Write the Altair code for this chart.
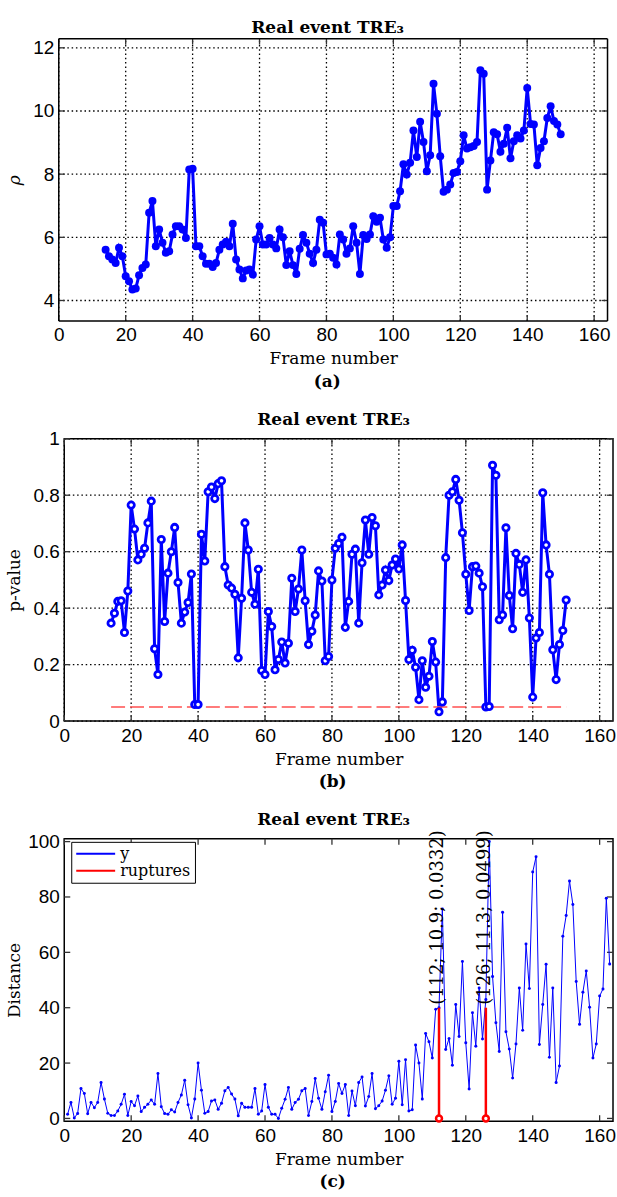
import altair as alt
import pandas as pd

# ---------------- data ----------------
frames_ab = list(range(14, 151))
rho = [5.61, 5.40, 5.30, 5.19, 5.67, 5.40, 4.77, 4.61, 4.35, 4.38,
       4.80, 5.03, 5.14, 6.78, 7.15, 5.72, 6.25, 5.83, 5.51, 5.56,
       6.09, 6.35, 6.35, 6.25, 5.98, 8.15, 8.17, 5.72, 5.72, 5.40,
       5.16, 5.16, 5.06, 5.19, 5.61, 5.77, 5.86, 5.72, 6.43, 5.30,
       4.98, 4.70, 4.95, 4.98, 4.82, 5.93, 6.35, 5.77, 5.77, 5.98,
       5.77, 5.65, 6.25, 6.00, 5.12, 5.56, 5.12, 4.84, 5.64, 6.07,
       5.83, 5.48, 5.19, 5.61, 6.56, 6.46, 5.46, 5.48, 5.35, 5.14,
       6.09, 5.93, 5.48, 5.65, 6.35, 5.83, 4.84, 6.07, 5.95, 6.09,
       6.67, 6.49, 6.62, 5.93, 5.67, 6.00, 6.99, 6.99, 7.46, 8.31,
       7.99, 8.36, 9.38, 8.54, 9.66, 9.02, 8.09, 8.60, 10.86, 9.91,
       8.57, 7.44, 7.51, 7.67, 8.04, 8.07, 8.41, 9.23, 8.81, 8.85,
       8.89, 9.02, 11.29, 11.18, 7.51, 8.43, 9.33, 9.26, 8.71, 8.96,
       9.47, 8.50, 9.04, 9.23, 9.13, 9.38, 10.73, 9.59, 9.57, 8.28,
       8.83, 9.04, 9.78, 10.15, 9.68, 9.57, 9.26]
pval = [0.347, 0.382, 0.424, 0.426, 0.314, 0.461, 0.765, 0.680, 0.571, 0.591,
        0.612, 0.702, 0.779, 0.256, 0.165, 0.643, 0.353, 0.524, 0.600, 0.686,
        0.491, 0.347, 0.386, 0.420, 0.521, 0.059, 0.059, 0.662, 0.567, 0.812,
        0.829, 0.788, 0.841, 0.851, 0.547, 0.482, 0.471, 0.449, 0.224, 0.435,
        0.702, 0.606, 0.456, 0.414, 0.538, 0.179, 0.165, 0.388, 0.335, 0.182,
        0.218, 0.280, 0.206, 0.276, 0.506, 0.388, 0.468, 0.606, 0.426, 0.271,
        0.318, 0.376, 0.532, 0.496, 0.214, 0.229, 0.500, 0.612, 0.629, 0.651,
        0.332, 0.424, 0.591, 0.609, 0.347, 0.561, 0.712, 0.591, 0.721, 0.692,
        0.447, 0.482, 0.535, 0.498, 0.553, 0.574, 0.539, 0.624, 0.427, 0.218,
        0.251, 0.191, 0.076, 0.214, 0.120, 0.159, 0.282, 0.209, 0.0332, 0.068,
        0.579, 0.800, 0.812, 0.856, 0.782, 0.667, 0.520, 0.392, 0.547, 0.549,
        0.524, 0.476, 0.0499, 0.052, 0.906, 0.871, 0.359, 0.376, 0.685, 0.445,
        0.327, 0.594, 0.555, 0.456, 0.571, 0.365, 0.085, 0.294, 0.314, 0.809,
        0.624, 0.520, 0.253, 0.147, 0.271, 0.321, 0.429]
threshold = 0.05

frames_c = list(range(1, 164))
dist = [1.5, 5.8, 0.2, 1.8, 10.8, 9.0, 1.7, 5.8, 3.9, 5.8,
        13.0, 7.0, 1.9, 1.1, 1.1, 2.7, 5.1, 8.7, 1.1, 6.1,
        4.6, 8.1, 2.5, 4.0, 5.1, 6.7, 5.1, 16.2, 4.2, 1.8,
        1.5, 3.1, 2.3, 5.8, 8.5, 13.8, 4.9, 0.2, 7.0, 20.0,
        10.2, 1.9, 2.5, 6.3, 6.7, 3.3, 5.5, 10.0, 11.2, 8.8,
        7.0, 1.0, 5.5, 4.0, 4.0, 4.0, 10.8, 1.5, 2.7, 12.3,
        4.0, 1.5, 1.5, 0.0, 3.7, 6.9, 11.2, 3.3, 5.8, 6.9,
        10.0, 10.8, 1.1, 6.1, 14.4, 7.3, 3.3, 9.6, 15.6, 2.5,
        6.1, 12.6, 9.0, 12.3, 1.1, 9.9, 4.6, 13.0, 15.0, 4.5,
        7.9, 16.2, 3.5, 4.6, 6.3, 10.2, 15.4, 5.1, 7.3, 20.7,
        4.9, 21.2, 2.7, 3.1, 26.5, 20.0, 7.0, 30.7, 27.7, 21.8,
        39.4, 40.0, 75.7, 24.9, 28.9, 19.2, 41.2, 29.6, 56.7, 27.3,
        10.6, 38.2, 26.1, 47.1, 28.7, 43.0, 100.0, 51.3, 34.6, 24.2,
        74.5, 31.3, 25.1, 14.6, 26.9, 47.1, 31.9, 63.0, 46.9, 89.0,
        94.5, 26.7, 41.2, 55.7, 22.1, 47.1, 13.0, 18.9, 65.8, 73.3,
        85.8, 77.3, 49.5, 34.0, 45.6, 53.3, 40.2, 21.8, 26.9, 44.2,
        46.8, 79.5, 55.8]
ruptures = [112, 126]
rupture_height = 40

x_ticks = [0, 20, 40, 60, 80, 100, 120, 140, 160]
rho_ticks = [4, 6, 8, 10, 12]
p_ticks = [0, 0.2, 0.4, 0.6, 0.8, 1.0]
dist_ticks = [0, 20, 40, 60, 80, 100]
title_text = "Real event TRE\u2083"
panel_tags = ["(a)", "(b)", "(c)"]

# ---------------- style ----------------
BLUE = "#0000FF"
RED = "#FF0000"
SERIF = "DejaVu Serif"
SANS = "Liberation Sans"
W, H = 550, 283
TICKLEN = 6
XDOM = [0, 164]
SHIFT_A = 5.5   # panel (a) sits a little further left in the original

df_a = pd.DataFrame({"frame": frames_ab, "rho": rho})
df_b = pd.DataFrame({"frame": frames_ab, "p": pval})
df_c = pd.DataFrame({"frame": frames_c, "dist": dist, "series": "y"})

rho_dom = [min(rho) - 1, max(rho) + 1]
dist_dom = [min(dist) - 1, max(dist) + 1]
p_dom = [0, 1]


def xaxis():
    return alt.Axis(values=x_ticks, title="Frame number", grid=False,
                    labelFont=SANS, labelFontSize=19, labelColor="black",
                    labelPadding=5, labelFlush=False, titleFont=SERIF, titleFontSize=17,
                    titleFontWeight="normal", titleColor="black",
                    titlePadding=6, ticks=False, domain=False)


def yaxis(values, title, fmt, title_x, offset=0, style="normal"):
    return alt.Axis(values=values, title=title, grid=False, format=fmt,
                    labelFont=SANS, labelFontSize=19, labelColor="black",
                    labelPadding=5, labelFlush=False, titleFont=SERIF, titleFontSize=17,
                    titleFontWeight="normal", titleColor="black",
                    titleFontStyle=style, titleX=title_x, offset=offset,
                    ticks=False, domain=False)


def build_panel(layers, yvals, ydom, ax_x, ax_y, xrange, grid, box):
    """Adds inward ticks, optional dotted grid and optional frame box."""
    xsc = alt.Scale(domain=XDOM, nice=False, zero=False, range=xrange)
    ysc = alt.Scale(domain=ydom, nice=False, zero=False)
    tx = pd.DataFrame({"v": x_ticks, "y0": [ydom[0]] * len(x_ticks), "y1": [ydom[1]] * len(x_ticks)})
    ty = pd.DataFrame({"v": yvals, "x0": [XDOM[0]] * len(yvals), "x1": [XDOM[1]] * len(yvals)})
    xs = alt.X("v:Q", scale=xsc, axis=ax_x)
    ys = alt.Y("v:Q", scale=ysc, axis=ax_y)
    extra = []
    if grid:
        extra.append(alt.Chart(tx).mark_rule(color="black", strokeWidth=1.3, strokeDash=[1.5, 2.8]).encode(
            x=xs, y=alt.Y("y0:Q", scale=ysc, axis=ax_y), y2="y1:Q"))
        extra.append(alt.Chart(ty).mark_rule(color="black", strokeWidth=1.3, strokeDash=[1.5, 2.8]).encode(
            y=ys, x=alt.X("x0:Q", scale=xsc, axis=ax_x), x2="x1:Q"))
    rx = alt.Chart(tx).mark_rule(color="#333", strokeWidth=1.3)
    ry = alt.Chart(ty).mark_rule(color="#333", strokeWidth=1.3)
    x_left = alt.X("x0:Q", scale=xsc, axis=ax_x)
    x_right = alt.X("x1:Q", scale=xsc, axis=ax_x)
    extra += [
        rx.encode(x=xs, y=alt.value(H), y2=alt.value(H - TICKLEN)),
        rx.encode(x=xs, y=alt.value(0), y2=alt.value(TICKLEN)),
        ry.encode(y=ys, x=x_left, x2=alt.value(xrange[0] + TICKLEN)),
        ry.encode(y=ys, x=x_right, x2=alt.value(xrange[1] - TICKLEN)),
    ]
    if box:
        bd = pd.DataFrame({"x0": [XDOM[0]], "x1": [XDOM[1]], "y0": [ydom[0]], "y1": [ydom[1]]})
        bb = alt.Chart(bd).mark_rule(color="black", strokeWidth=1.5)
        y0 = alt.Y("y0:Q", scale=ysc, axis=ax_y)
        y1 = alt.Y("y1:Q", scale=ysc, axis=ax_y)
        extra += [
            bb.encode(x=x_left, y=y0, y2="y1:Q"),
            bb.encode(x=x_right, y=y0, y2="y1:Q"),
            bb.encode(x=x_left, x2="x1:Q", y=y0),
            bb.encode(x=x_left, x2="x1:Q", y=y1),
        ]
    return extra + layers


def tag(text, dx=0):
    return alt.Chart(pd.DataFrame({"t": [text]})).mark_text(
        font=SERIF, fontSize=17, fontWeight="bold", color="black",
        baseline="middle", align="center").encode(
        text="t:N", x=alt.value(W / 2 - 6 + dx), y=alt.value(H + 61))


def ttl(dx):
    return alt.TitleParams(title_text, font=SERIF, fontSize=17, fontWeight="bold",
                           color="black", offset=1, anchor="middle", dx=dx, frame="group")


# ---------------- panel (a) ----------------
range_a = [-SHIFT_A, W - SHIFT_A]
ax_xa = xaxis()
ax_ya = yaxis(rho_ticks, "\u03c1", "d", -41 + SHIFT_A, offset=SHIFT_A, style="italic")
sc_xa = alt.Scale(domain=XDOM, nice=False, zero=False, range=range_a)
sc_ya = alt.Scale(domain=rho_dom, nice=False, zero=False)
xa = alt.X("frame:Q", scale=sc_xa, axis=ax_xa)
ya = alt.Y("rho:Q", scale=sc_ya, axis=ax_ya)
base_a = alt.Chart(df_a)
pa = alt.layer(*build_panel([
    base_a.mark_line(color=BLUE, strokeWidth=3).encode(x=xa, y=ya),
    base_a.mark_circle(color=BLUE, size=64, opacity=1).encode(x=xa, y=ya),
    tag(panel_tags[0], -SHIFT_A),
], rho_ticks, rho_dom, ax_xa, ax_ya, range_a, True, True)).properties(
    width=W, height=H, title=ttl(-11), view=alt.ViewBackground(stroke="transparent"))

# ---------------- panel (b) ----------------
range_b = [0, W]
ax_xb = xaxis()
ax_yb = yaxis(p_ticks, "p-value", "~g", -41)
sc_xb = alt.Scale(domain=XDOM, nice=False, zero=False, range=range_b)
sc_yb = alt.Scale(domain=p_dom, nice=False, zero=False)
xb = alt.X("frame:Q", scale=sc_xb, axis=ax_xb)
yb = alt.Y("p:Q", scale=sc_yb, axis=ax_yb)
base_b = alt.Chart(df_b)
thr_df = pd.DataFrame({"frame": [frames_ab[0]], "frame_end": [frames_ab[-1]], "p": [threshold]})
pb = alt.layer(*build_panel([
    base_b.mark_line(color=BLUE, strokeWidth=3).encode(x=xb, y=yb),
    alt.Chart(thr_df).mark_rule(color="#FF5050", strokeWidth=1.5, strokeDash=[14, 5]).encode(
        x=xb, x2="frame_end:Q", y=yb),
    base_b.mark_point(shape="circle", filled=True, fill="white", stroke=BLUE,
                      strokeWidth=2.8, size=40, opacity=1).encode(x=xb, y=yb),
    tag(panel_tags[1]),
], p_ticks, p_dom, ax_xb, ax_yb, range_b, True, False)).properties(
    width=W, height=H, title=ttl(-5))

# ---------------- panel (c) ----------------
range_c = [0, W]
ax_xc = xaxis()
ax_yc = yaxis(dist_ticks, "Distance", "d", -41)
sc_xc = alt.Scale(domain=XDOM, nice=False, zero=False, range=range_c)
sc_yc = alt.Scale(domain=dist_dom, nice=False, zero=False)
xc = alt.X("frame:Q", scale=sc_xc, axis=ax_xc)
yc = alt.Y("dist:Q", scale=sc_yc, axis=ax_yc)
color_scale = alt.Scale(domain=["y", "ruptures"], range=[BLUE, RED])
legend = alt.Legend(title=None, orient="none", legendX=7, legendY=3,
                    strokeColor="black", fillColor="white", padding=4,
                    symbolType="stroke", symbolSize=1521, symbolStrokeWidth=2,
                    clipHeight=16, labelFont=SERIF, labelFontSize=16,
                    labelColor="black", labelOffset=4, rowPadding=1)
base_c = alt.Chart(df_c)

rup_idx = [frames_ab.index(r) for r in ruptures]
rup_df = pd.DataFrame({
    "frame": ruptures,
    "dist": [0] * len(ruptures),
    "top": [rupture_height] * len(ruptures),
    "series": "ruptures",
    "label": ["(%d; %.1f; %.4f)" % (ruptures[k], rho[i], pval[i]) for k, i in enumerate(rup_idx)],
})
pc = alt.layer(*build_panel([
    base_c.mark_line(strokeWidth=1).encode(
        x=xc, y=yc, color=alt.Color("series:N", scale=color_scale, legend=legend)),
    base_c.mark_circle(color=BLUE, size=9, opacity=1).encode(x=xc, y=yc),
    alt.Chart(rup_df).mark_rule(strokeWidth=2.5).encode(
        x=xc, y=yc, y2="top:Q",
        color=alt.Color("series:N", scale=color_scale, legend=legend)),
    alt.Chart(rup_df).mark_point(shape="circle", filled=True, fill="white", stroke=RED,
                                 strokeWidth=2.5, size=35, opacity=1).encode(x=xc, y=yc),
    alt.Chart(rup_df).mark_text(angle=270, align="left", baseline="middle", font=SERIF,
                                fontSize=18, color="black", dx=3, dy=-1).encode(
        x=xc, y=alt.Y("top:Q", scale=sc_yc, axis=ax_yc), text="label:N"),
    tag(panel_tags[2]),
], dist_ticks, dist_dom, ax_xc, ax_yc, range_c, False, False)).properties(
    width=W, height=H, title=ttl(-5))

chart = alt.vconcat(
    pa, pb, pc, spacing=19
).resolve_scale(color="independent").resolve_legend(color="independent").properties(
    padding={"left": 4.4, "top": 16.4, "right": 0, "bottom": 0}, background="white"
).configure_view(stroke="black", strokeWidth=1.5)

chart.save("out.html", embed_options={"renderer": "svg", "actions": False})
